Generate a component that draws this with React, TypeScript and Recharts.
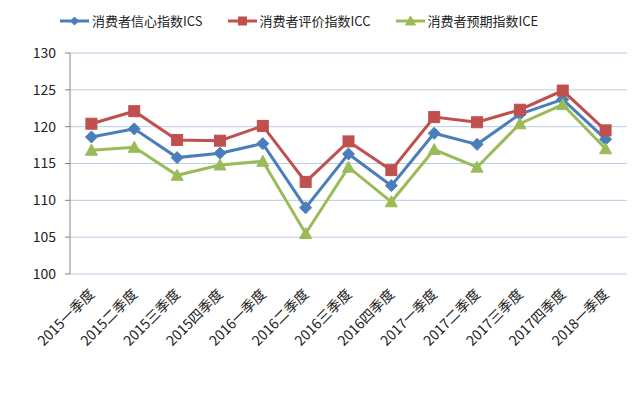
import { LineChart, Line, XAxis, YAxis, CartesianGrid } from 'recharts'

// quarters on the x axis
const quarters = [
  '2015一季度', '2015二季度', '2015三季度', '2015四季度',
  '2016一季度', '2016二季度', '2016三季度', '2016四季度',
  '2017一季度', '2017二季度', '2017三季度', '2017四季度',
  '2018一季度',
]

// 消费者信心指数 ICS
const ics = [118.6, 119.7, 115.8, 116.4, 117.7, 109.0, 116.3, 112.0, 119.1, 117.6, 121.7, 123.7, 118.3]
// 消费者评价指数 ICC
const icc = [120.4, 122.1, 118.2, 118.1, 120.1, 112.5, 118.0, 114.1, 121.3, 120.6, 122.3, 124.9, 119.5]
// 消费者预期指数 ICE
const ice = [116.8, 117.2, 113.4, 114.8, 115.3, 105.5, 114.5, 109.8, 116.9, 114.5, 120.4, 123.0, 117.0]

const yTicks = [100, 105, 110, 115, 120, 125, 130]

const BLUE = '#4A7EBB'
const RED = '#C0504D'
const GREEN = '#9BBB59'
const FONT = '"Noto Sans CJK SC", "Noto Sans", sans-serif'

const data = quarters.map((q, i) => ({ idx: i, name: q, ics: ics[i], icc: icc[i], ice: ice[i] }))

const centerTicks = quarters.map((_, i) => i)
const edgeTicks = [...quarters.map((_, i) => i - 0.5), quarters.length - 0.5]

type Shape = 'diamond' | 'square' | 'triangle'

const marker = (shape: Shape, color: string, cx: number, cy: number, s: number) => {
  if (shape === 'diamond') {
    return <path d={`M${cx},${cy - s} L${cx + s},${cy} L${cx},${cy + s} L${cx - s},${cy} Z`} fill={color} stroke={color} />
  }
  if (shape === 'square') {
    return <rect x={cx - s} y={cy - s} width={s * 2} height={s * 2} fill={color} stroke={color} />
  }
  return <path d={`M${cx},${cy - s - 1} L${cx + s + 1},${cy + s} L${cx - s - 1},${cy + s} Z`} fill={color} stroke={color} />
}

const makeDot = (shape: Shape, color: string, s: number) => (props: any) => {
  const { cx, cy, index } = props
  if (cx == null || cy == null) return <g key={index} />
  return <g key={index}>{marker(shape, color, cx, cy, s)}</g>
}

const series = [
  { key: 'ics', label: '消费者信心指数ICS', color: BLUE, shape: 'diamond' as Shape, size: 6 },
  { key: 'icc', label: '消费者评价指数ICC', color: RED, shape: 'square' as Shape, size: 5.5 },
  { key: 'ice', label: '消费者预期指数ICE', color: GREEN, shape: 'triangle' as Shape, size: 5 },
]

const ChartLegend = () => (
  <div
    style={{
      position: 'absolute', left: 60, top: 11, display: 'flex', gap: 25,
      fontFamily: FONT, fontSize: 13, lineHeight: '20px', color: '#222',
    }}
  >
    {series.map((s) => (
      <div key={s.key} style={{ display: 'flex', alignItems: 'center' }}>
        <svg width={29} height={14} style={{ marginRight: 3 }}>
          <line x1={0} y1={7} x2={29} y2={7} stroke={s.color} strokeWidth={3} />
          {marker(s.shape, s.color, 14.5, 7, 4)}
        </svg>
        <span>{s.label}</span>
      </div>
    ))}
  </div>
)

const QuarterTick = (props: any) => {
  const { x, y, payload } = props
  const ax = x - 5
  const ay = y + 4
  return (
    <text
      x={ax}
      y={ay}
      transform={`rotate(-45, ${ax}, ${ay})`}
      textAnchor="end"
      dominantBaseline="hanging"
      fontFamily={FONT}
      fontSize={14}
      fill="#222"
    >
      {quarters[payload.value]}
    </text>
  )
}

export default function App() {
  return (
    <div style={{ position: 'absolute', left: 0, top: 0, width: 638, height: 397, background: '#fff' }}>
      <ChartLegend />
      <LineChart width={638} height={397} data={data} margin={{ top: 53, right: 11, left: 0, bottom: 43 }}>
        <CartesianGrid horizontal vertical={false} stroke="#B9CDE5" xAxisId="q" />
        <XAxis
          xAxisId="q"
          dataKey="idx"
          type="number"
          domain={[-0.5, quarters.length - 0.5]}
          ticks={centerTicks}
          tick={<QuarterTick />}
          tickLine={false}
          axisLine={false}
          height={80}
          interval={0}
        />
        <XAxis
          xAxisId="edge"
          dataKey="idx"
          type="number"
          domain={[-0.5, quarters.length - 0.5]}
          ticks={edgeTicks}
          tick={false}
          tickSize={5}
          tickLine={{ stroke: '#868686' }}
          axisLine={{ stroke: '#868686' }}
          height={0}
          interval={0}
        />
        <YAxis
          domain={[100, 130]}
          ticks={yTicks}
          width={70}
          tickSize={5}
          tickMargin={9}
          interval={0}
          tickLine={{ stroke: '#868686' }}
          axisLine={{ stroke: '#868686' }}
          tick={{ fontFamily: FONT, fontSize: 14, fill: '#222' }}
        />
        {series.map((s) => (
          <Line
            key={s.key}
            xAxisId="q"
            type="linear"
            dataKey={s.key}
            name={s.label}
            stroke={s.color}
            strokeWidth={3}
            dot={makeDot(s.shape, s.color, s.size)}
            activeDot={false}
            isAnimationActive={false}
          />
        ))}
      </LineChart>
    </div>
  )
}
